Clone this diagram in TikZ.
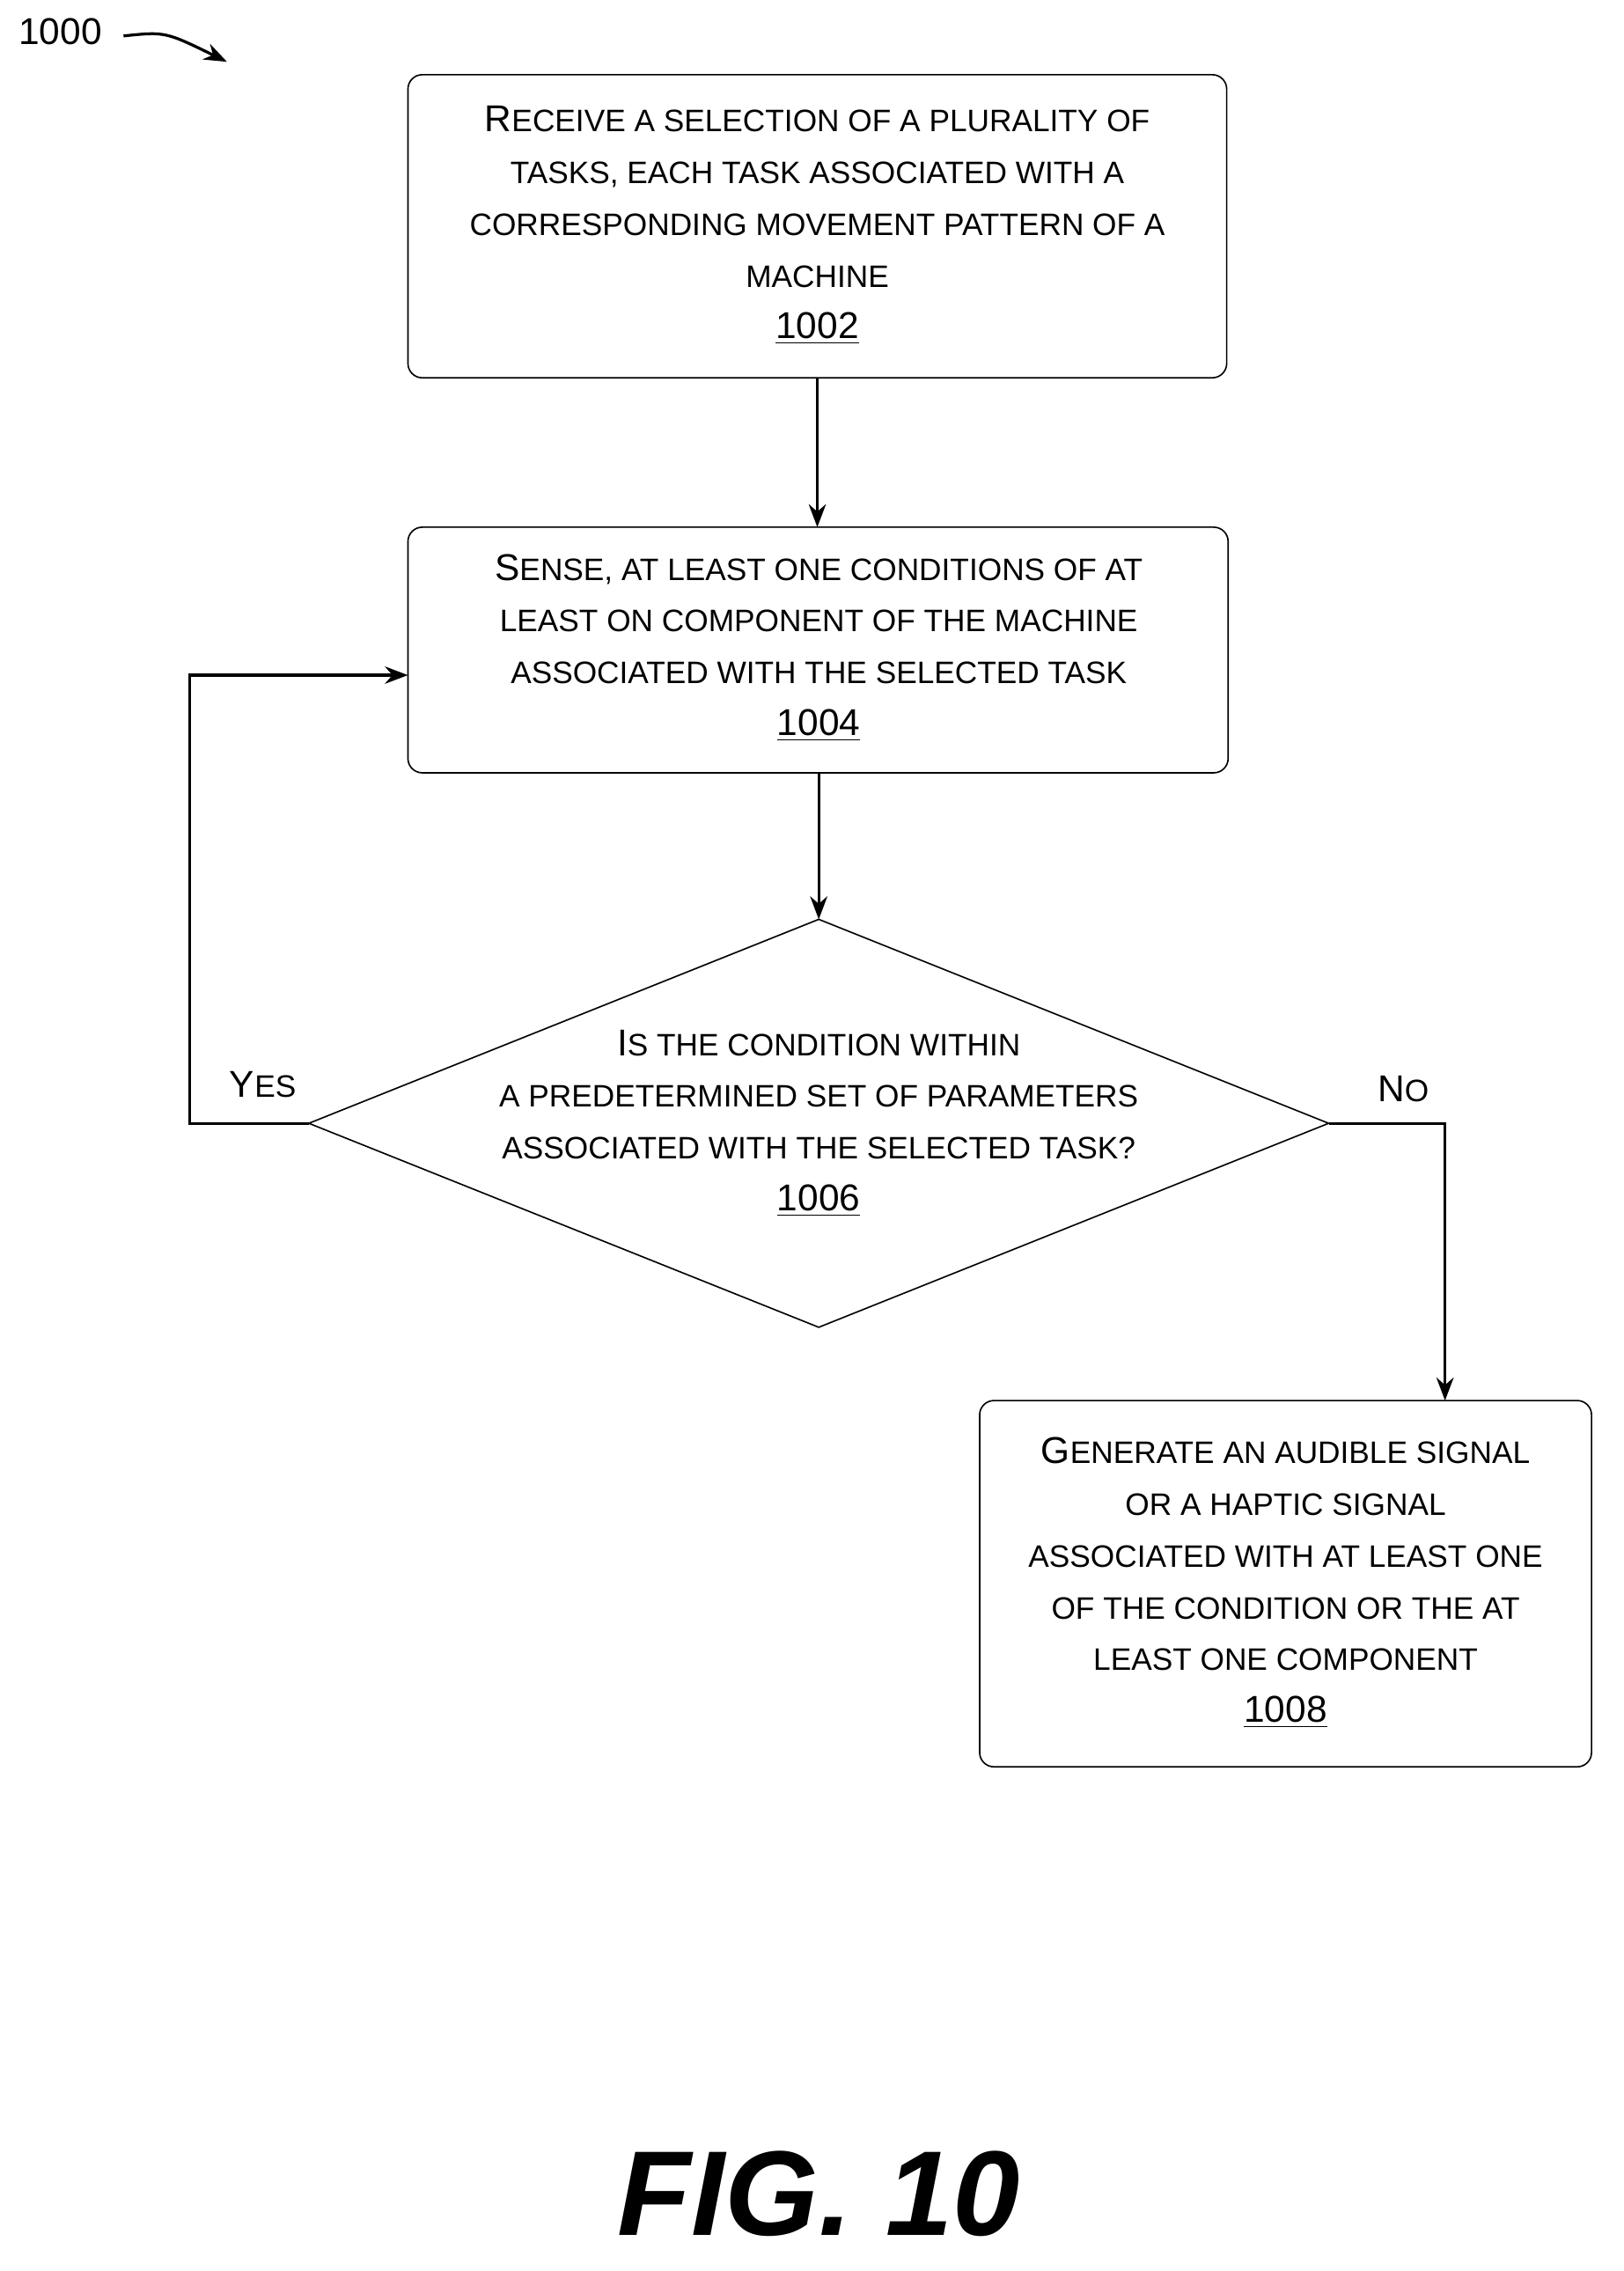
\documentclass[tikz,border=0pt]{standalone}
\usepackage{fontspec}
\setmainfont{Liberation Sans}
\usetikzlibrary{arrows.meta}
\newcommand\SC[1]{{\fontsize{10.8}{18}\selectfont #1}}
\begin{document}
\begin{tikzpicture}[x=0.5pt,y=-0.5pt,
  box/.style={draw,rounded corners=5pt,line width=0.5pt,align=center,font=\fontsize{13}{18}\selectfont},
  txt/.style={align=center,font=\fontsize{13}{18}\selectfont},
  arr/.style={line width=1pt,-{Stealth[length=8pt,width=6pt]}},
  ln/.style={line width=1pt}]
\useasboundingbox (0,0) rectangle (1130,1581);
\draw[box] (284,52) rectangle (854,263);
\node[txt] (b1) at (569,157) {R\SC{ECEIVE A SELECTION OF A PLURALITY OF}\\ \SC{TASKS, EACH TASK ASSOCIATED WITH A}\\ \SC{CORRESPONDING MOVEMENT PATTERN OF A}\\ \SC{MACHINE}\\ \underline{1002}};
\coordinate (b1s) at (569,263);
\draw[box] (284,367) rectangle (855,538);
\node[txt] (b2) at (570,451) {S\SC{ENSE, AT LEAST ONE CONDITIONS OF AT}\\ \SC{LEAST ON COMPONENT OF THE MACHINE}\\ \SC{ASSOCIATED WITH THE SELECTED TASK}\\ \underline{1004}};
\coordinate (b2n) at (569,367);
\coordinate (b2s) at (570,538);
\coordinate (b2w) at (284,470);
\draw[line width=0.5pt] (570,640) coordinate (dn) -- (925,782) coordinate (de) -- (570,924) -- (215,782) coordinate (dw) -- cycle;
\node[txt] (d) at (570,782) {I\SC{S THE CONDITION WITHIN}\\ \SC{A PREDETERMINED SET OF PARAMETERS}\\ \SC{ASSOCIATED WITH THE SELECTED TASK?}\\ \underline{1006}};
\draw[box] (682,975) rectangle (1108,1230);
\node[txt] (b4) at (895,1102) {G\SC{ENERATE AN AUDIBLE SIGNAL}\\ \SC{OR A HAPTIC SIGNAL}\\ \SC{ASSOCIATED WITH AT LEAST ONE}\\ \SC{OF THE CONDITION OR THE AT}\\ \SC{LEAST ONE COMPONENT}\\ \underline{1008}};
\coordinate (b4n) at (1006,975);
\draw[arr] (b1s) -- (b2n);
\draw[arr] (b2s) -- (dn);
\draw[arr] (dw) -- (132,782) -- (132,470) -- (b2w);
\draw[arr] (de) -- (1006,782) -- (b4n);
\node[txt] (yes) at (183,755) {Y\SC{ES}};
\node[txt] (no) at (977,758) {N\SC{O}};
\node[txt] (lbl) at (42,22) {1000};
\coordinate (la) at (158,43);
\draw[arr] (86,25) .. controls (115,22) .. (la);
\node[font=\fontsize{42}{48}\selectfont\bfseries\itshape] (fig) at (570,1527) {FIG. 10};
\end{tikzpicture}
\end{document}
